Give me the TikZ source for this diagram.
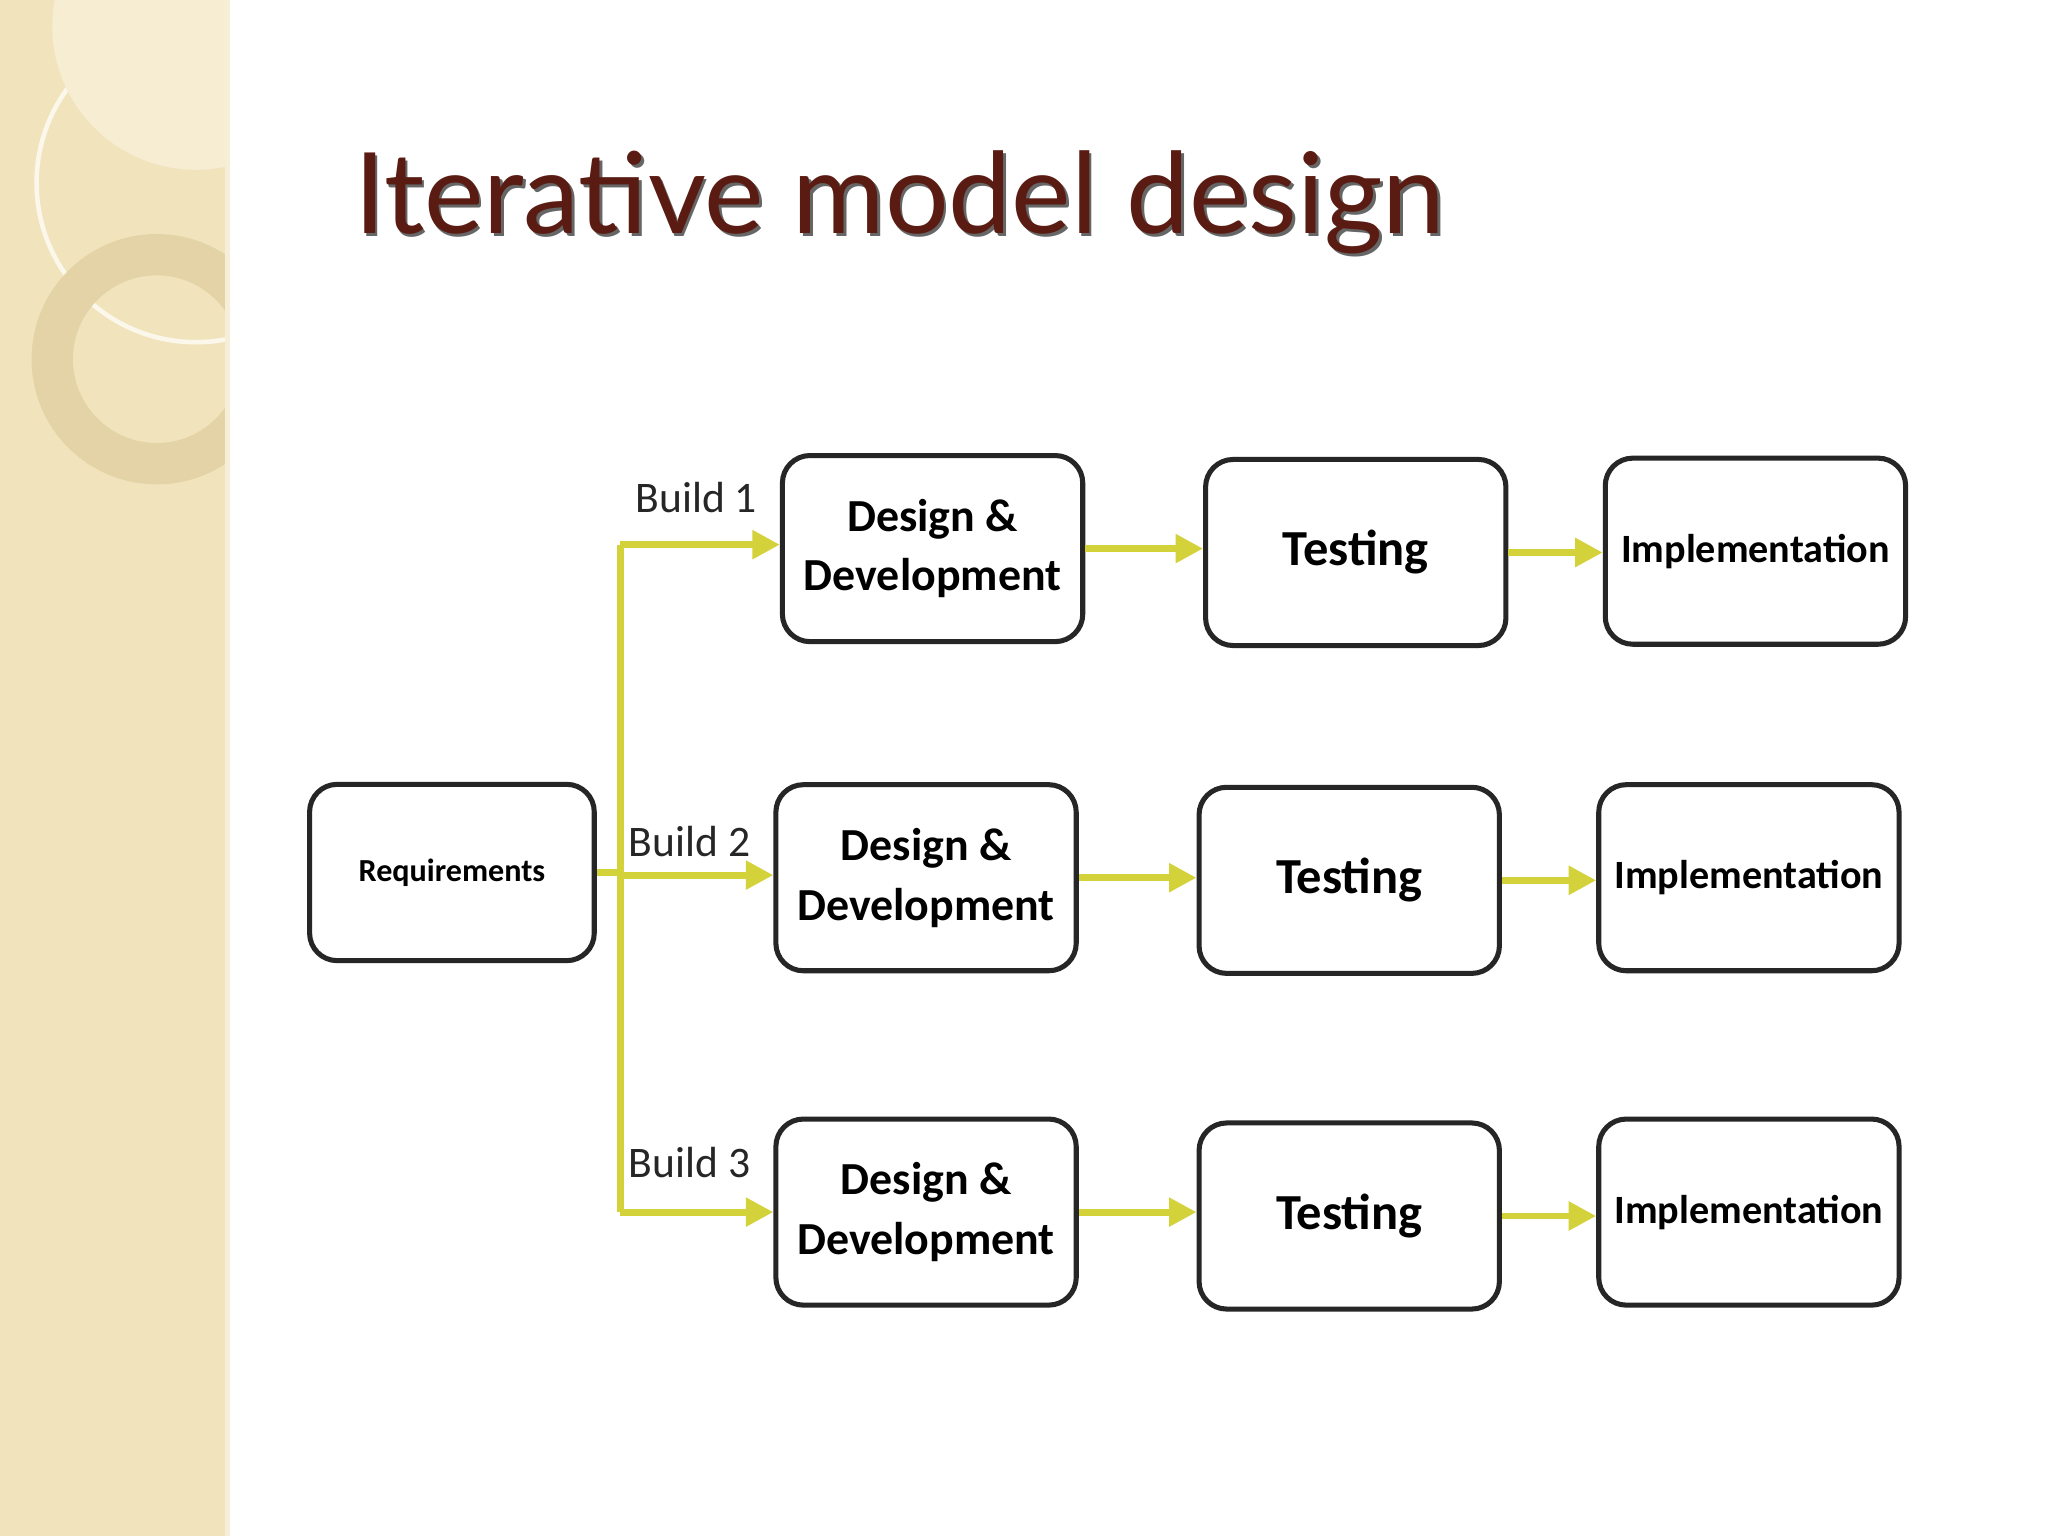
\documentclass[tikz,border=0pt]{standalone}
\usepackage{fontspec}
\setmainfont{Carlito}
\newfontfamily\titlefont{Lato}
\usetikzlibrary{arrows.meta}
\definecolor{band}{HTML}{F1E3BC}
\definecolor{ring}{HTML}{E3D3A6}
\definecolor{ttl}{HTML}{5A1C12}
\definecolor{arr}{HTML}{D4D23A}
\tikzset{
  box/.style={draw=black!85,line width=2.2pt,rounded corners=12pt,fill=white,minimum width=4.6cm,minimum height=2.85cm,align=center,font=\bfseries\fontsize{20}{26}\selectfont},
  impl/.style={box,font=\bfseries\fontsize{17.5}{22}\selectfont},
  flow/.style={draw=arr,line width=3pt,-{Triangle[length=12pt,width=12pt]}},
  lbl/.style={font=\fontsize{19}{23}\selectfont,text=black!85}
}
\begin{document}
\begin{tikzpicture}[x=0.02cm,y=-0.02cm]
\useasboundingbox (0,0) rectangle (1568,1176);
\fill[white] (0,0) rectangle (1568,1176);
\fill[band] (0,0) rectangle (173,1176);
\begin{scope}
\clip (0,0) rectangle (173,1176);
\draw[white!70!band,line width=2pt] (150,140) circle (122);
\fill[white!35!band] (150,20) circle (110);
\draw[ring,line width=18pt] (120,275) circle (80);
\end{scope}
\fill[white!40!band] (172,0) rectangle (176,1176);
\node[anchor=west,font=\titlefont\fontsize{49}{58}\selectfont,text=black!60] at (267,157) {Iterative model design};
\node[anchor=west,font=\titlefont\fontsize{49}{58}\selectfont,text=ttl] at (265,155) {Iterative model design};

\node[box,minimum width=4.36cm,minimum height=2.7cm,font=\bfseries\fontsize{14}{18}\selectfont] (req) at (346,668) {Requirements};
\node[box] (d1) at (714,420) {Design \&\\Development};
\node[box,font=\bfseries\fontsize{22}{26}\selectfont] (t1) at (1038,423) {Testing};
\node[impl] (i1) at (1344,422) {Implementation};
\node[box] (d2) at (709,672) {Design \&\\Development};
\node[box,font=\bfseries\fontsize{22}{26}\selectfont] (t2) at (1033,674) {Testing};
\node[impl] (i2) at (1339,672) {Implementation};
\node[box] (d3) at (709,928) {Design \&\\Development};
\node[box,font=\bfseries\fontsize{22}{26}\selectfont] (t3) at (1033,931) {Testing};
\node[impl] (i3) at (1339,928) {Implementation};

\coordinate (top) at (475,417);
\coordinate (mid) at (475,670);
\coordinate (bot) at (475,928);
\draw[draw=arr,line width=3pt] (top) -- (bot);
\draw[draw=arr,line width=3pt] (req.east) -- (req.east -| mid);
\draw[flow] (top) -- (d1.west |- top);
\draw[flow] (mid) -- (d2.west |- mid);
\draw[flow] (bot) -- (d3.west |- bot);
\node[lbl] at (533,381) {Build 1};
\node[lbl] at (528,644) {Build 2};
\node[lbl] at (528,890) {Build 3};
\foreach \a/\b in {d1/t1,t1/i1,d2/t2,t2/i2,d3/t3,t3/i3}
  \draw[flow] (\a.east) -- (\b.west |- \a.east);
\end{tikzpicture}
\end{document}
